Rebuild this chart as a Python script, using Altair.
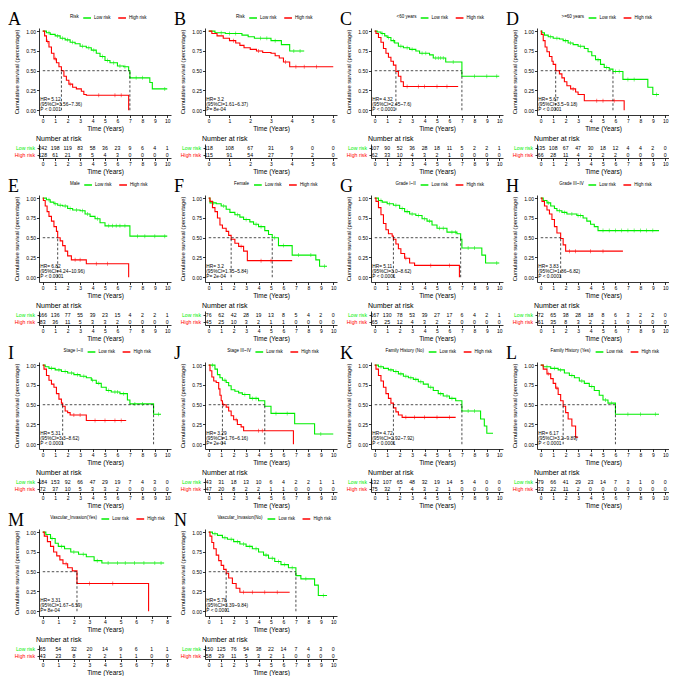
import altair as alt
import pandas as pd

GREEN = "#00EE00"
RED = "#FF0000"
GROUPS = ["Low risk", "High risk"]

LETTERS = list("ABCDEFGHIJKLMN")
LEGEND_TITLES = ["Risk", "Risk", "<60 years", ">=60 years", "Male", "Female",
                 "Grade I~II", "Grade III~IV", "Stage I~II", "Stage III~IV",
                 "Family History (No)", "Family History (Yes)",
                 "Vascular_Invasion(Yes)", "Vascular_Invasion(No)"]
X_MAX = [10, 6, 10, 10, 10, 10, 10, 10, 10, 10, 10, 10, 8, 10]
HR_TEXT = ["HR= 5.12", "HR= 3.2", "HR= 4.32", "HR= 5.67", "HR= 6.82", "HR= 3.2",
           "HR= 5.11", "HR= 3.83", "HR= 5.31", "HR= 3.29", "HR= 4.72", "HR= 6.17",
           "HR= 3.31", "HR= 5.78"]
CI_TEXT = ["(95%CI=3.56~7.36)", "(95%CI=1.61~6.37)", "(95%CI=2.45~7.6)", "(95%CI=3.5~9.18)",
           "(95%CI=4.24~10.96)", "(95%CI=1.75~5.84)", "(95%CI=3.0~8.62)", "(95%CI=1.86~6.82)",
           "(95%CI=3.3~8.62)", "(95%CI=1.76~6.16)", "(95%CI=2.92~7.92)", "(95%CI=3.2~9.89)",
           "(95%CI=1.67~6.59)", "(95%CI=3.39~9.84)"]
P_TEXT = ["P < 0.001", "P= 8e-04", "P < 0.0001", "P < 0.0001", "P < 0.0001", "P= 2e-04",
          "P < 0.0001", "P < 0.0001", "P < 0.0001", "P= 2e-04", "P < 0.0001", "P < 0.0001",
          "P= 8e-04", "P < 0.0001"]

# ---- step curves: (time, survival) change points ----
A_LOW = [(0, 1), (0.3, 0.98), (0.6, 0.96), (1.0, 0.94), (1.4, 0.91), (1.8, 0.89), (2.2, 0.86), (2.6, 0.84),
         (3.0, 0.81), (3.5, 0.79), (3.9, 0.76), (4.3, 0.72), (4.6, 0.68), (5.0, 0.63), (5.4, 0.60), (6.0, 0.56),
         (6.5, 0.55), (6.9, 0.50), (7.0, 0.41), (8.6, 0.35), (8.8, 0.27), (10.0, 0.27)]
A_HIGH = [(0, 1), (0.15, 0.94), (0.3, 0.87), (0.5, 0.80), (0.7, 0.72), (0.9, 0.65), (1.1, 0.60), (1.3, 0.55),
          (1.5, 0.50), (1.7, 0.43), (1.9, 0.38), (2.1, 0.33), (2.4, 0.29), (2.7, 0.27), (3.1, 0.24), (3.3, 0.20),
          (3.5, 0.19), (6.9, 0.0)]
A_LOW_C = [0.5, 1.2, 1.6, 2.0, 2.4, 3.2, 3.7, 4.1, 4.8, 5.2, 5.7, 6.2, 6.6, 7.5, 8.0, 9.8]
A_HIGH_C = [0.4, 1.0, 2.2, 4.5, 5.8, 6.3]
A_LOW_N = [242, 198, 119, 83, 58, 36, 23, 9, 6, 4, 1]
A_HIGH_N = [128, 61, 21, 8, 5, 4, 3, 0, 0, 0, 0]
A_MED = [1.5, 7.0]

B_LOW = [(0, 1), (0.3, 0.98), (0.8, 0.97), (1.6, 0.95), (1.9, 0.93), (2.2, 0.91), (3.0, 0.88), (3.5, 0.83),
         (3.9, 0.75), (4.6, 0.75)]
B_HIGH = [(0, 1), (0.15, 0.97), (0.4, 0.94), (0.7, 0.91), (1.0, 0.88), (1.3, 0.85), (1.5, 0.82), (1.7, 0.79),
          (2.0, 0.77), (2.3, 0.75), (2.6, 0.73), (3.0, 0.72), (3.2, 0.69), (3.4, 0.66), (3.6, 0.61), (3.9, 0.55),
          (6.0, 0.55)]
B_LOW_C = [0.6, 1.0, 1.3, 2.5, 2.8, 3.2, 4.1, 4.4]
B_HIGH_C = [1.2, 2.4, 3.7, 4.2, 4.6, 5.2]
B_LOW_N = [118, 108, 67, 31, 9, 0, 0]
B_HIGH_N = [115, 91, 54, 27, 7, 2, 0]
B_MED = []

C_LOW = [(0, 1), (0.2, 0.99), (0.5, 0.97), (0.8, 0.94), (1.0, 0.92), (1.3, 0.88), (1.6, 0.85), (1.9, 0.81),
         (2.3, 0.79), (2.8, 0.77), (3.3, 0.75), (3.6, 0.72), (4.4, 0.70), (4.7, 0.66), (5.7, 0.61), (7.0, 0.43),
         (10.0, 0.43)]
C_HIGH = [(0, 1), (0.1, 0.97), (0.3, 0.92), (0.5, 0.86), (0.7, 0.78), (0.9, 0.72), (1.1, 0.67), (1.3, 0.62),
          (1.5, 0.57), (1.7, 0.49), (1.9, 0.43), (2.1, 0.36), (2.3, 0.30), (6.7, 0.30)]
C_LOW_C = [0.6, 1.1, 1.5, 2.1, 2.6, 3.0, 3.8, 4.1, 4.9, 5.1, 5.3, 5.5, 6.3, 8.0, 9.0, 9.8]
C_HIGH_C = [2.6, 3.5, 4.0, 5.0, 5.8]
C_LOW_N = [107, 90, 52, 36, 28, 18, 11, 5, 2, 2, 1]
C_HIGH_N = [62, 33, 10, 4, 3, 2, 1, 0, 0, 0, 0]
C_MED = [1.7, 7.0]

D_LOW = [(0, 1), (0.1, 0.98), (0.3, 0.95), (0.6, 0.93), (1.0, 0.91), (1.5, 0.90), (1.8, 0.88), (2.2, 0.85),
         (2.6, 0.83), (3.0, 0.81), (3.5, 0.78), (3.8, 0.74), (4.1, 0.69), (4.4, 0.64), (4.8, 0.58), (5.1, 0.54),
         (5.5, 0.52), (5.8, 0.49), (6.6, 0.39), (8.6, 0.29), (9.0, 0.20), (9.5, 0.20)]
D_HIGH = [(0, 1), (0.05, 0.96), (0.2, 0.88), (0.35, 0.80), (0.5, 0.74), (0.7, 0.68), (0.9, 0.62), (1.0, 0.58),
          (1.2, 0.50), (1.5, 0.46), (1.7, 0.41), (1.9, 0.36), (2.1, 0.31), (2.4, 0.27), (2.8, 0.23), (3.0, 0.20),
          (3.5, 0.12), (6.7, 0.0)]
D_LOW_C = [0.8, 1.3, 2.0, 2.4, 3.2, 4.6, 5.3, 6.0, 6.3, 7.0, 7.5, 9.3]
D_HIGH_C = [2.6, 4.5, 5.0, 5.9]
D_LOW_N = [135, 108, 67, 47, 30, 18, 12, 4, 4, 2, 0]
D_HIGH_N = [66, 28, 11, 4, 2, 2, 2, 0, 0, 0, 0]
D_MED = [1.2, 5.8]

E_LOW = [(0, 1), (0.3, 0.98), (0.6, 0.95), (0.9, 0.93), (1.2, 0.91), (1.6, 0.90), (2.0, 0.87), (2.4, 0.85),
         (3.0, 0.84), (3.4, 0.80), (3.8, 0.77), (4.2, 0.74), (4.6, 0.69), (5.0, 0.65), (7.0, 0.52), (10.0, 0.52)]
E_HIGH = [(0, 1), (0.05, 0.97), (0.2, 0.90), (0.35, 0.83), (0.5, 0.77), (0.7, 0.71), (0.9, 0.64), (1.1, 0.58),
          (1.2, 0.50), (1.4, 0.46), (1.6, 0.40), (1.8, 0.33), (2.0, 0.27), (2.3, 0.22), (3.5, 0.17), (6.9, 0.0)]
E_LOW_C = [0.5, 1.0, 1.4, 1.8, 2.2, 2.7, 3.2, 3.6, 4.4, 5.3, 5.6, 5.9, 6.2, 6.6, 7.6, 8.2, 9.0, 9.8]
E_HIGH_C = [2.6, 3.0, 4.3, 5.2]
E_LOW_N = [166, 136, 77, 55, 39, 23, 15, 4, 2, 2, 1]
E_HIGH_N = [83, 36, 11, 5, 3, 3, 2, 0, 0, 0, 0]
E_MED = [1.2]

F_LOW = [(0, 1), (0.1, 0.94), (0.6, 0.93), (1.0, 0.90), (1.4, 0.86), (1.7, 0.82), (2.1, 0.79), (2.5, 0.76),
         (2.8, 0.73), (3.3, 0.70), (3.6, 0.67), (4.0, 0.64), (4.5, 0.59), (4.8, 0.54), (5.1, 0.50), (5.6, 0.40),
         (6.7, 0.28), (8.6, 0.22), (8.9, 0.14), (9.5, 0.14)]
F_HIGH = [(0, 1), (0.1, 0.96), (0.3, 0.88), (0.5, 0.83), (0.7, 0.75), (0.9, 0.66), (1.1, 0.62), (1.4, 0.58),
          (1.6, 0.53), (1.8, 0.48), (2.1, 0.43), (2.4, 0.39), (2.8, 0.33), (3.1, 0.21), (6.7, 0.21)]
F_LOW_C = [0.4, 1.2, 2.3, 3.0, 3.8, 4.2, 5.3, 6.0, 7.2, 8.2, 9.3]
F_HIGH_C = [2.6, 4.2, 5.0]
F_LOW_N = [76, 62, 42, 28, 19, 13, 8, 5, 4, 2, 0]
F_HIGH_N = [45, 25, 10, 3, 2, 1, 1, 0, 0, 0, 0]
F_MED = [1.8, 5.1]

G_LOW = [(0, 1), (0.3, 0.97), (0.6, 0.95), (1.0, 0.93), (1.5, 0.91), (2.0, 0.87), (2.4, 0.83), (2.8, 0.80),
         (3.3, 0.78), (3.8, 0.74), (4.2, 0.71), (4.6, 0.66), (5.0, 0.62), (5.8, 0.57), (6.6, 0.55), (6.9, 0.48),
         (7.0, 0.37), (8.6, 0.28), (8.9, 0.18), (10.0, 0.18)]
G_HIGH = [(0, 1), (0.1, 0.96), (0.3, 0.88), (0.5, 0.79), (0.7, 0.68), (0.9, 0.60), (1.1, 0.55), (1.4, 0.52),
          (1.5, 0.48), (1.7, 0.42), (1.9, 0.36), (2.1, 0.30), (2.4, 0.24), (2.8, 0.18), (3.2, 0.15), (6.8, 0.0)]
G_LOW_C = [0.5, 1.2, 1.7, 2.2, 2.6, 3.0, 3.5, 4.0, 4.4, 5.2, 5.5, 6.2, 6.5, 7.5, 8.0, 9.8]
G_HIGH_C = [2.5, 4.5, 6.0]
G_LOW_N = [167, 130, 78, 53, 39, 27, 17, 6, 4, 2, 1]
G_HIGH_N = [65, 25, 12, 4, 3, 2, 2, 0, 0, 0, 0]
G_MED = [1.5, 6.9]

H_LOW = [(0, 1), (0.2, 0.97), (0.5, 0.94), (0.8, 0.90), (1.1, 0.87), (1.3, 0.84), (1.7, 0.82), (2.1, 0.80),
         (2.9, 0.78), (3.4, 0.75), (3.7, 0.71), (4.0, 0.67), (4.3, 0.64), (4.6, 0.59), (9.5, 0.59)]
H_HIGH = [(0, 1), (0.1, 0.96), (0.3, 0.90), (0.5, 0.85), (0.7, 0.80), (0.9, 0.73), (1.1, 0.64), (1.3, 0.56),
          (1.6, 0.49), (1.8, 0.41), (2.0, 0.33), (6.6, 0.33)]
H_LOW_C = [0.6, 1.5, 1.9, 2.5, 3.0, 3.2, 5.0, 5.5, 6.0, 6.5, 7.0, 7.5, 8.0, 8.5, 9.0]
H_HIGH_C = [2.3, 2.8, 4.0, 5.0]
H_LOW_N = [72, 65, 38, 28, 18, 8, 6, 3, 2, 2, 0]
H_HIGH_N = [61, 35, 8, 3, 2, 2, 1, 0, 0, 0, 0]
H_MED = [1.6]

I_LOW = [(0, 1), (0.2, 0.98), (0.5, 0.96), (1.0, 0.94), (1.5, 0.92), (2.0, 0.90), (2.5, 0.88), (3.0, 0.86),
         (3.5, 0.84), (3.9, 0.81), (4.3, 0.77), (4.7, 0.72), (5.1, 0.68), (5.5, 0.66), (6.2, 0.64), (6.8, 0.56),
         (7.0, 0.51), (8.9, 0.38), (9.5, 0.38)]
I_HIGH = [(0, 1), (0.1, 0.95), (0.3, 0.87), (0.5, 0.81), (0.7, 0.76), (0.9, 0.72), (1.1, 0.64), (1.3, 0.57),
          (1.5, 0.52), (1.6, 0.48), (1.8, 0.42), (2.0, 0.40), (2.2, 0.37), (3.5, 0.30), (6.7, 0.30)]
I_LOW_C = [0.7, 1.3, 1.8, 2.3, 2.8, 3.3, 4.0, 4.5, 5.3, 5.8, 6.0, 6.5, 7.4, 8.0, 9.3]
I_HIGH_C = [2.5, 3.0, 4.2, 5.0, 5.8, 6.3]
I_LOW_N = [184, 153, 92, 66, 47, 29, 19, 7, 4, 3, 0]
I_HIGH_N = [72, 37, 10, 5, 3, 3, 2, 0, 0, 0, 0]
I_MED = [1.6, 8.9]

J_LOW = [(0, 1), (0.5, 0.95), (0.7, 0.88), (0.9, 0.84), (1.1, 0.81), (1.4, 0.78), (1.6, 0.74), (1.8, 0.69),
         (2.1, 0.67), (2.4, 0.65), (2.7, 0.63), (3.3, 0.58), (4.0, 0.55), (4.5, 0.48), (5.0, 0.39), (6.9, 0.26),
         (8.5, 0.13), (10.0, 0.13)]
J_HIGH = [(0, 1), (0.1, 0.93), (0.25, 0.85), (0.4, 0.80), (0.6, 0.78), (0.8, 0.70), (0.9, 0.62), (1.0, 0.55),
          (1.1, 0.50), (1.4, 0.47), (1.6, 0.42), (1.8, 0.36), (2.0, 0.31), (2.3, 0.25), (2.6, 0.22), (2.8, 0.17),
          (6.8, 0.0)]
J_LOW_C = [0.3, 1.3, 2.9, 3.5, 3.8, 5.4, 6.3, 9.0]
J_HIGH_C = [1.2, 2.2, 4.0, 4.3]
J_LOW_N = [43, 31, 18, 13, 10, 6, 4, 2, 2, 1, 1]
J_HIGH_N = [47, 20, 8, 2, 2, 1, 1, 0, 0, 0, 0]
J_MED = [1.1, 4.5]

K_LOW = [(0, 1), (0.3, 0.98), (0.7, 0.96), (1.1, 0.94), (1.5, 0.92), (1.9, 0.89), (2.3, 0.86), (2.7, 0.84),
         (3.1, 0.82), (3.5, 0.79), (3.9, 0.76), (4.3, 0.72), (4.7, 0.68), (5.1, 0.64), (5.5, 0.61), (6.0, 0.58),
         (6.5, 0.55), (7.0, 0.42), (8.5, 0.32), (8.8, 0.23), (9.0, 0.14), (9.5, 0.14)]
K_HIGH = [(0, 1), (0.1, 0.95), (0.3, 0.87), (0.5, 0.80), (0.7, 0.72), (0.9, 0.64), (1.1, 0.58), (1.3, 0.52),
          (1.5, 0.46), (1.7, 0.41), (1.9, 0.37), (2.2, 0.34), (6.5, 0.34)]
K_LOW_C = [0.5, 1.3, 1.7, 2.1, 2.5, 2.9, 3.3, 3.7, 4.5, 5.3, 5.8, 6.2, 7.5, 8.0]
K_HIGH_C = [2.5, 3.2, 4.0, 5.0, 6.0]
K_LOW_N = [132, 107, 65, 48, 32, 19, 14, 5, 4, 0, 0]
K_HIGH_N = [75, 32, 7, 4, 3, 2, 1, 0, 0, 0, 0]
K_MED = [1.5, 7.0]

L_LOW = [(0, 1), (0.2, 0.98), (0.8, 0.96), (1.4, 0.94), (1.9, 0.90), (2.3, 0.87), (2.7, 0.84), (3.1, 0.80),
         (3.5, 0.77), (3.9, 0.73), (4.3, 0.68), (4.7, 0.62), (5.0, 0.56), (5.4, 0.52), (6.0, 0.38), (9.5, 0.38)]
L_HIGH = [(0, 1), (0.2, 0.95), (0.5, 0.89), (0.8, 0.83), (1.0, 0.77), (1.2, 0.71), (1.4, 0.63), (1.6, 0.55),
          (1.8, 0.48), (2.0, 0.40), (2.2, 0.32), (2.5, 0.23), (2.8, 0.09), (3.0, 0.09)]
L_LOW_C = [0.5, 1.1, 1.6, 2.5, 3.3, 4.1, 5.2, 5.7, 7.0, 8.0, 9.2]
L_HIGH_C = [0.6, 1.3]
L_LOW_N = [79, 66, 41, 29, 23, 14, 7, 3, 1, 0, 0]
L_HIGH_N = [33, 22, 11, 2, 0, 0, 0, 0, 0, 0, 0]
L_MED = [1.8, 6.0]

M_LOW = [(0, 1), (0.2, 0.97), (0.5, 0.92), (0.8, 0.86), (1.0, 0.82), (1.4, 0.79), (1.8, 0.75), (2.3, 0.72),
         (2.8, 0.69), (3.3, 0.64), (3.8, 0.61), (7.8, 0.61)]
M_HIGH = [(0, 1), (0.1, 0.95), (0.3, 0.88), (0.5, 0.82), (0.7, 0.75), (0.9, 0.70), (1.1, 0.65), (1.3, 0.60),
          (1.6, 0.55), (1.9, 0.51), (2.2, 0.35), (6.8, 0.0)]
M_LOW_C = [0.6, 1.2, 2.0, 2.6, 3.5, 4.2, 4.8, 5.3, 5.9, 6.5, 7.2, 7.6]
M_HIGH_C = [1.5, 3.0, 4.5]
M_LOW_N = [65, 54, 32, 20, 14, 9, 6, 1, 1]
M_HIGH_N = [43, 23, 8, 2, 2, 1, 1, 0, 0]
M_MED = [2.2]

N_LOW = [(0, 1), (0.3, 0.98), (0.7, 0.96), (1.1, 0.93), (1.5, 0.91), (2.0, 0.88), (2.5, 0.85), (3.0, 0.82),
         (3.5, 0.79), (4.0, 0.75), (4.4, 0.71), (4.8, 0.67), (5.3, 0.63), (5.8, 0.59), (6.4, 0.55), (7.0, 0.45),
         (7.4, 0.41), (8.5, 0.33), (8.8, 0.20), (9.5, 0.20)]
N_HIGH = [(0, 1), (0.1, 0.95), (0.25, 0.87), (0.4, 0.79), (0.6, 0.71), (0.8, 0.64), (1.0, 0.58), (1.2, 0.53),
          (1.4, 0.48), (1.6, 0.42), (1.9, 0.35), (2.2, 0.29), (2.5, 0.24), (6.5, 0.24)]
N_LOW_C = [0.5, 1.3, 1.8, 2.3, 2.8, 3.3, 3.8, 4.6, 5.1, 5.6, 6.1, 6.7, 7.8, 9.2]
N_HIGH_C = [2.8, 3.5, 4.5, 5.5]
N_LOW_N = [150, 125, 76, 54, 38, 22, 14, 7, 4, 3, 0]
N_HIGH_N = [58, 29, 11, 5, 3, 2, 1, 0, 0, 0, 0]
N_MED = [1.4, 7.0]

PANELS = [
    (A_LOW, A_HIGH, A_LOW_C, A_HIGH_C, A_LOW_N, A_HIGH_N, A_MED),
    (B_LOW, B_HIGH, B_LOW_C, B_HIGH_C, B_LOW_N, B_HIGH_N, B_MED),
    (C_LOW, C_HIGH, C_LOW_C, C_HIGH_C, C_LOW_N, C_HIGH_N, C_MED),
    (D_LOW, D_HIGH, D_LOW_C, D_HIGH_C, D_LOW_N, D_HIGH_N, D_MED),
    (E_LOW, E_HIGH, E_LOW_C, E_HIGH_C, E_LOW_N, E_HIGH_N, E_MED),
    (F_LOW, F_HIGH, F_LOW_C, F_HIGH_C, F_LOW_N, F_HIGH_N, F_MED),
    (G_LOW, G_HIGH, G_LOW_C, G_HIGH_C, G_LOW_N, G_HIGH_N, G_MED),
    (H_LOW, H_HIGH, H_LOW_C, H_HIGH_C, H_LOW_N, H_HIGH_N, H_MED),
    (I_LOW, I_HIGH, I_LOW_C, I_HIGH_C, I_LOW_N, I_HIGH_N, I_MED),
    (J_LOW, J_HIGH, J_LOW_C, J_HIGH_C, J_LOW_N, J_HIGH_N, J_MED),
    (K_LOW, K_HIGH, K_LOW_C, K_HIGH_C, K_LOW_N, K_HIGH_N, K_MED),
    (L_LOW, L_HIGH, L_LOW_C, L_HIGH_C, L_LOW_N, L_HIGH_N, L_MED),
    (M_LOW, M_HIGH, M_LOW_C, M_HIGH_C, M_LOW_N, M_HIGH_N, M_MED),
    (N_LOW, N_HIGH, N_LOW_C, N_HIGH_C, N_LOW_N, N_HIGH_N, N_MED),
]

W = 132
H_KM = 87
H_TAB = 14
FONT = "Liberation Sans"


def surv_at(steps, t):
    s = steps[0][1]
    for tt, ss in steps:
        if tt <= t:
            s = ss
        else:
            break
    return s


def panel(i):
    low, high, lowc, highc, lown, highn, med = PANELS[i]
    xmax = X_MAX[i]
    pad = 0.03 * xmax
    xs = alt.Scale(domain=[-pad, xmax + pad], nice=False, zero=False)
    ys = alt.Scale(domain=[-0.06, 1.04], nice=False, zero=False)
    xticks = list(range(0, xmax + 1))
    x_axis = alt.Axis(values=xticks, format="d", title="Time (Years)", labelOverlap=False, tickCount=len(xticks))
    y_axis = alt.Axis(values=[0, 0.25, 0.5, 0.75, 1.0], format=".2f",
                      title="Cumulative survival (percentage)", labelOverlap=False)

    def X(f):
        return alt.X(f, scale=xs, axis=x_axis)

    def Y(f):
        return alt.Y(f, scale=ys, axis=y_axis)

    rows = []
    for g, steps in (("Low risk", low), ("High risk", high)):
        for k, (t, s) in enumerate(steps):
            rows.append({"t": t, "s": s, "g": g, "o": k})
    cdf = pd.DataFrame(rows)

    crow = []
    for g, steps, cs in (("Low risk", low, lowc), ("High risk", high, highc)):
        for c in cs:
            crow.append({"t": c, "s": surv_at(steps, c), "g": g})
    cens = pd.DataFrame(crow)

    title = LEGEND_TITLES[i]
    est = len(title) * 2.2 + 61
    lx = W / 2 - est / 2

    color_scale = alt.Scale(domain=GROUPS, range=[GREEN, RED])

    layers = []
    lines = alt.Chart(cdf).mark_line(interpolate="step-after", strokeWidth=1.1).encode(
        x=X("t:Q"), y=Y("s:Q"), order="o:Q",
        color=alt.Color("g:N", scale=color_scale, sort=GROUPS,
                        legend=alt.Legend(title=title, orient="none", legendX=lx, legendY=-15,
                                          direction="horizontal", titleOrient="left",
                                          titleFontSize=4.5, titleFontWeight="normal", labelFontSize=4.5,
                                          symbolType="stroke", symbolSize=60, symbolStrokeWidth=1.5,
                                          columnPadding=4, labelOffset=2, titlePadding=3, padding=0,
                                          titleFont=FONT, labelFont=FONT)))
    layers.append(lines)

    if med:
        hdf = pd.DataFrame({"x": [0.0], "x2": [max(med)], "y": [0.5]})
        layers.append(alt.Chart(hdf).mark_rule(color="black", strokeDash=[2.5, 2], strokeWidth=0.7).encode(
            x=X("x:Q"), x2="x2:Q", y=Y("y:Q")))
        vdf = pd.DataFrame({"x": med, "y": [0.0] * len(med), "y2": [0.5] * len(med)})
        layers.append(alt.Chart(vdf).mark_rule(color="black", strokeDash=[2.5, 2], strokeWidth=0.7).encode(
            x=X("x:Q"), y=Y("y:Q"), y2="y2:Q"))

    ticks = alt.Chart(cens).mark_tick(orient="vertical", size=4, thickness=0.7).encode(
        x=X("t:Q"), y=Y("s:Q"),
        color=alt.Color("g:N", scale=color_scale, legend=None))
    layers.append(ticks)

    tdf = pd.DataFrame({"x": [-0.2 * xmax / 10] * 3, "y": [0.132, 0.066, 0.0],
                        "label": [HR_TEXT[i], CI_TEXT[i], P_TEXT[i]]})
    layers.append(alt.Chart(tdf).mark_text(align="left", baseline="middle", fontSize=4.8, font=FONT).encode(
        x=X("x:Q"), y=Y("y:Q"), text="label:N"))

    ldf = pd.DataFrame({"letter": [LETTERS[i]]})
    layers.append(alt.Chart(ldf).mark_text(align="left", baseline="alphabetic", fontSize=18,
                                           font="Liberation Serif").encode(
        x=alt.value(-31), y=alt.value(-3), text="letter:N"))

    km = alt.layer(*layers).properties(width=W, height=H_KM)

    trows = []
    for g, ns in (("Low risk", lown), ("High risk", highn)):
        for t, n in enumerate(ns):
            trows.append({"t": t, "g": g, "n": n})
    tab_df = pd.DataFrame(trows)
    tab = alt.Chart(tab_df).mark_text(fontSize=5.2, font=FONT).encode(
        x=alt.X("t:Q", scale=xs, axis=x_axis),
        y=alt.Y("g:N", sort=GROUPS, scale=alt.Scale(domain=GROUPS, paddingOuter=0.25),
                axis=alt.Axis(title=None, labelFontSize=5.2, labelPadding=2.5, tickSize=2,
                              labelColor=alt.condition("datum.value == 'Low risk'", alt.value(GREEN), alt.value(RED)))),
        text="n:Q",
    ).properties(width=W, height=H_TAB,
                 title=alt.TitleParams("Number at risk", anchor="start", frame="group", dx=-3,
                                       fontSize=7, fontWeight="normal", font=FONT, offset=2))

    return alt.vconcat(km, tab, spacing=3)


chart = alt.concat(*[panel(i) for i in range(14)], columns=4, spacing=3).resolve_scale(
    color="independent").resolve_legend(color="independent").properties(
    padding={"top": 3, "left": 0, "right": 0, "bottom": 0}).configure(
    font=FONT).configure_view(stroke=None).configure_axis(
    grid=False, domainColor="black", tickColor="black", labelColor="black", titleColor="black",
    domainWidth=0.8, tickWidth=0.8, tickSize=2.5, labelFontSize=5, titleFontSize=6.5,
    titleFontWeight="normal", labelFont=FONT, titleFont=FONT, labelPadding=1, titlePadding=2
).configure_axisY(titleFontSize=5.8, titlePadding=6)

chart.save("out.html", embed_options={"renderer": "svg", "actions": False})
